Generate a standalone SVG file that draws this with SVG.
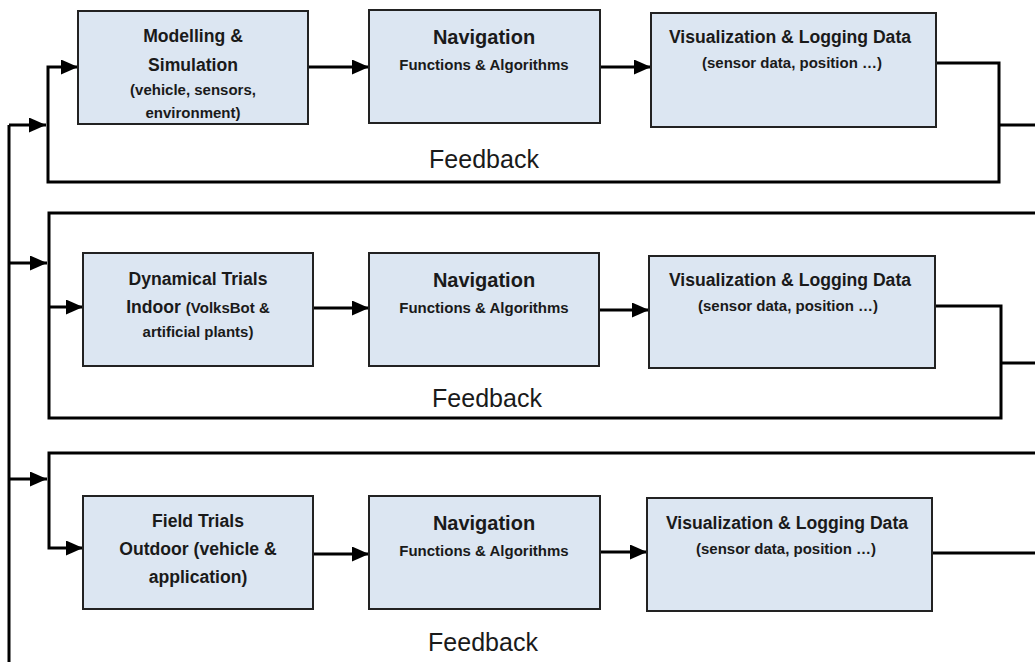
<svg xmlns="http://www.w3.org/2000/svg" width="1035" height="662" viewBox="0 0 1035 662">
<defs>
<marker id="ah" markerUnits="userSpaceOnUse" markerWidth="17" markerHeight="15" refX="17" refY="7.5" orient="auto">
<path d="M0,0 L17,7.5 L0,15 Z" fill="#000"/>
</marker>
<style>
.box{fill:#dce6f2;stroke:#222;stroke-width:2}
.c{fill:none;stroke:#000;stroke-width:3;stroke-linejoin:miter}
.a{fill:none;stroke:#000;stroke-width:3;marker-end:url(#ah)}
.t{font-family:"Liberation Sans",Arial,sans-serif;font-weight:bold;fill:#1a1a1a;text-anchor:middle}
.t1{font-size:17.6px}
.t2{font-size:15px}
.tn{font-size:20px}
.fb{font-family:"Liberation Sans",Arial,sans-serif;font-size:25px;fill:#1a1a1a;text-anchor:middle}
</style>
</defs>
<rect width="1035" height="662" fill="#fff"/>
<g id="connectors">
<path class="c" d="M9,125 L9,662"/>
<path class="a" d="M9,125 L46,125"/>
<path class="a" d="M9,263 L47,263"/>
<path class="a" d="M9,479 L47,479"/>
<path class="a" d="M308,67 L369,67"/>
<path class="a" d="M600,67 L651,67"/>
<path class="a" d="M936,63 L999,63 L999,182 L48,182 L48,67 L78,67"/>
<path class="c" d="M999,125 L1035,125"/>
<path class="c" d="M1035,213 L49,213 L49,418 L1001,418 L1001,306 L935,306"/>
<path class="c" d="M1001,363 L1035,363"/>
<path class="a" d="M49,307 L83,307"/>
<path class="a" d="M313,308 L369,308"/>
<path class="a" d="M599,310 L649,310"/>
<path class="a" d="M1035,453 L49,453 L49,548 L83,548"/>
<path class="a" d="M313,554 L369,554"/>
<path class="a" d="M600,552 L647,552"/>
<path class="c" d="M932,553 L1035,553"/>
</g>
<g id="n-model">
<rect class="box" x="78" y="11" width="230" height="113"/>
<text class="t t1" x="193" y="42">Modelling &amp;</text>
<text class="t t1" x="193" y="71">Simulation</text>
<text class="t t2" x="193" y="95">(vehicle, sensors,</text>
<text class="t t2" x="193" y="118">environment)</text>
</g>
<g id="n-nav1">
<rect class="box" x="369" y="10" width="231" height="113"/>
<text class="t tn" x="484" y="44">Navigation</text>
<text class="t t2" x="484" y="70">Functions &amp; Algorithms</text>
</g>
<g id="n-vis1">
<rect class="box" x="651" y="13" width="285" height="114"/>
<text class="t t1" x="790" y="43">Visualization &amp; Logging Data</text>
<text class="t t2" x="792" y="68">(sensor data, position …)</text>
</g>
<text class="fb" x="484" y="168">Feedback</text>
<g id="n-indoor">
<rect class="box" x="83" y="253" width="230" height="113"/>
<text class="t t1" x="198" y="285">Dynamical Trials</text>
<text class="t" x="198" y="313"><tspan class="t1">Indoor </tspan><tspan class="t2">(VolksBot &amp;</tspan></text>
<text class="t t2" x="198" y="337">artificial plants)</text>
</g>
<g id="n-nav2">
<rect class="box" x="369" y="253" width="230" height="113"/>
<text class="t tn" x="484" y="287">Navigation</text>
<text class="t t2" x="484" y="313">Functions &amp; Algorithms</text>
</g>
<g id="n-vis2">
<rect class="box" x="649" y="256" width="286" height="112"/>
<text class="t t1" x="790" y="286">Visualization &amp; Logging Data</text>
<text class="t t2" x="788" y="311">(sensor data, position …)</text>
</g>
<text class="fb" x="487" y="407">Feedback</text>
<g id="n-field">
<rect class="box" x="83" y="496" width="230" height="113"/>
<text class="t t1" x="198" y="527">Field Trials</text>
<text class="t t1" x="198" y="555">Outdoor (vehicle &amp;</text>
<text class="t t1" x="198" y="583">application)</text>
</g>
<g id="n-nav3">
<rect class="box" x="369" y="496" width="231" height="113"/>
<text class="t tn" x="484" y="530">Navigation</text>
<text class="t t2" x="484" y="556">Functions &amp; Algorithms</text>
</g>
<g id="n-vis3">
<rect class="box" x="647" y="498" width="285" height="113"/>
<text class="t t1" x="787" y="529">Visualization &amp; Logging Data</text>
<text class="t t2" x="786" y="554">(sensor data, position …)</text>
</g>
<text class="fb" x="483" y="651">Feedback</text>
</svg>
